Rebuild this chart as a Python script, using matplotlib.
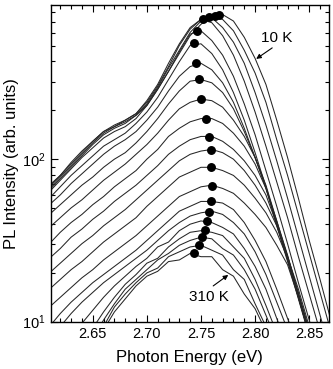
import matplotlib
matplotlib.use("Agg")
import matplotlib.pyplot as plt
import matplotlib.ticker as ticker
import numpy as np

plt.rcParams["font.family"] = ["Liberation Sans", "DejaVu Sans"]
plt.rcParams["mathtext.default"] = "regular"

# photon energy grid shared by all spectra (eV)
energy = [2.61, 2.62, 2.63, 2.64, 2.65, 2.66, 2.67, 2.68, 2.69, 2.70, 2.71, 2.72, 2.73, 2.74,
          2.75, 2.76, 2.77, 2.78, 2.79, 2.80, 2.81, 2.82, 2.83, 2.84, 2.85, 2.86, 2.87]

temperatures = [10, 25, 40, 55, 70, 85, 100, 115, 130, 145, 160, 175, 190, 205, 220, 235, 250,
                265, 280, 295, 310]

# log10 of PL intensity (arb. units), one spectrum per temperature
log_pl_010K = [1.81, 1.88, 1.95, 2.02, 2.09, 2.15, 2.19, 2.22, 2.27, 2.33, 2.43, 2.54, 2.65, 2.76,
               2.83, 2.88, 2.89, 2.85, 2.75, 2.62, 2.46, 2.24, 2.01, 1.76, 1.50, 1.26, 1.01]
log_pl_025K = [1.82, 1.89, 1.96, 2.03, 2.10, 2.16, 2.20, 2.23, 2.27, 2.34, 2.44, 2.56, 2.67, 2.78,
               2.85, 2.88, 2.86, 2.79, 2.67, 2.53, 2.35, 2.12, 1.90, 1.66, 1.42, 1.18, 0.94]
log_pl_040K = [1.84, 1.90, 1.98, 2.05, 2.11, 2.17, 2.21, 2.24, 2.28, 2.35, 2.45, 2.57, 2.70, 2.80,
               2.86, 2.87, 2.81, 2.72, 2.59, 2.41, 2.21, 1.99, 1.76, 1.52, 1.28, 1.04, 0.80]
log_pl_055K = [1.83, 1.90, 1.97, 2.04, 2.11, 2.17, 2.20, 2.24, 2.28, 2.36, 2.46, 2.59, 2.71, 2.81,
               2.86, 2.84, 2.76, 2.64, 2.48, 2.29, 2.08, 1.86, 1.64, 1.40, 1.17, 0.94, 0.70]
log_pl_070K = [1.80, 1.87, 1.94, 2.01, 2.07, 2.13, 2.17, 2.20, 2.25, 2.33, 2.43, 2.54, 2.66, 2.77,
               2.79, 2.73, 2.64, 2.51, 2.34, 2.15, 1.93, 1.71, 1.48, 1.24, 1.01, 0.78, 0.55]
log_pl_085K = [1.76, 1.83, 1.90, 1.96, 2.02, 2.08, 2.12, 2.16, 2.22, 2.29, 2.38, 2.49, 2.60, 2.70,
               2.71, 2.65, 2.55, 2.41, 2.24, 2.04, 1.83, 1.60, 1.38, 1.15, 0.92, 0.69, 0.46]
log_pl_100K = [1.72, 1.78, 1.85, 1.91, 1.97, 2.03, 2.08, 2.12, 2.17, 2.24, 2.32, 2.42, 2.51, 2.57,
               2.59, 2.55, 2.47, 2.35, 2.19, 2.01, 1.82, 1.59, 1.37, 1.14, 0.91, 0.68, 0.45]
log_pl_115K = [1.66, 1.72, 1.78, 1.84, 1.89, 1.95, 2.00, 2.04, 2.10, 2.17, 2.25, 2.34, 2.42, 2.48,
               2.49, 2.47, 2.41, 2.31, 2.17, 2.01, 1.83, 1.61, 1.39, 1.15, 0.92, 0.68, 0.45]
log_pl_130K = [1.58, 1.64, 1.70, 1.75, 1.81, 1.87, 1.92, 1.97, 2.03, 2.09, 2.16, 2.24, 2.31, 2.35,
               2.37, 2.36, 2.32, 2.24, 2.14, 2.01, 1.84, 1.62, 1.40, 1.16, 0.93, 0.69, 0.46]
log_pl_145K = [1.48, 1.55, 1.61, 1.66, 1.72, 1.77, 1.83, 1.88, 1.93, 2.00, 2.06, 2.14, 2.19, 2.23,
               2.25, 2.25, 2.22, 2.16, 2.08, 1.97, 1.82, 1.62, 1.41, 1.17, 0.94, 0.70, 0.47]
log_pl_160K = [1.39, 1.45, 1.52, 1.57, 1.63, 1.68, 1.74, 1.79, 1.84, 1.90, 1.96, 2.03, 2.08, 2.12,
               2.14, 2.14, 2.11, 2.06, 1.99, 1.90, 1.78, 1.60, 1.40, 1.18, 0.95, 0.72, 0.49]
log_pl_175K = [1.30, 1.36, 1.42, 1.48, 1.53, 1.59, 1.64, 1.69, 1.75, 1.81, 1.87, 1.93, 1.99, 2.03,
               2.05, 2.06, 2.04, 2.00, 1.93, 1.84, 1.73, 1.59, 1.40, 1.20, 0.97, 0.75, 0.52]
log_pl_190K = [1.20, 1.26, 1.32, 1.37, 1.43, 1.49, 1.54, 1.59, 1.64, 1.71, 1.77, 1.83, 1.89, 1.92,
               1.95, 1.95, 1.93, 1.90, 1.84, 1.76, 1.67, 1.55, 1.39, 1.16, 0.93, 0.69, 0.46]
log_pl_205K = [1.09, 1.15, 1.21, 1.27, 1.32, 1.38, 1.43, 1.48, 1.53, 1.59, 1.65, 1.71, 1.77, 1.80,
               1.83, 1.84, 1.82, 1.79, 1.73, 1.66, 1.58, 1.47, 1.35, 1.15, 0.92, 0.68, 0.45]
log_pl_220K = [0.97, 1.05, 1.12, 1.18, 1.24, 1.29, 1.34, 1.39, 1.44, 1.50, 1.56, 1.62, 1.68, 1.71,
               1.74, 1.74, 1.73, 1.69, 1.61, 1.50, 1.37, 1.20, 1.02, 0.85, 0.69, 0.52, 0.33]
log_pl_235K = [0.89, 0.97, 1.05, 1.12, 1.18, 1.24, 1.29, 1.34, 1.39, 1.44, 1.50, 1.56, 1.61, 1.65,
               1.67, 1.68, 1.66, 1.61, 1.54, 1.43, 1.29, 1.12, 0.95, 0.78, 0.61, 0.43, 0.26]
log_pl_250K = [0.73, 0.83, 0.91, 0.99, 1.07, 1.15, 1.22, 1.28, 1.34, 1.39, 1.46, 1.49, 1.56, 1.60,
               1.62, 1.61, 1.58, 1.54, 1.45, 1.34, 1.20, 1.02, 0.85, 0.68, 0.51, 0.33, 0.16]
log_pl_265K = [0.61, 0.70, 0.80, 0.88, 0.96, 1.06, 1.15, 1.23, 1.29, 1.36, 1.39, 1.46, 1.51, 1.55,
               1.56, 1.55, 1.53, 1.46, 1.39, 1.26, 1.10, 0.93, 0.76, 0.59, 0.41, 0.24, 0.07]
log_pl_280K = [0.52, 0.61, 0.70, 0.79, 0.90, 1.01, 1.11, 1.20, 1.26, 1.32, 1.38, 1.42, 1.47, 1.50,
               1.52, 1.51, 1.45, 1.41, 1.32, 1.20, 1.04, 0.88, 0.70, 0.53, 0.36, 0.19, 0.01]
log_pl_295K = [0.46, 0.55, 0.64, 0.73, 0.86, 0.97, 1.09, 1.17, 1.24, 1.30, 1.33, 1.40, 1.43, 1.46,
               1.47, 1.44, 1.41, 1.32, 1.26, 1.11, 0.97, 0.83, 0.65, 0.48, 0.31, 0.14, -0.04]
log_pl_310K = [0.40, 0.49, 0.58, 0.70, 0.83, 0.95, 1.06, 1.14, 1.22, 1.28, 1.31, 1.37, 1.38, 1.42,
               1.40, 1.40, 1.32, 1.28, 1.17, 1.08, 0.94, 0.80, 0.64, 0.49, 0.33, 0.18, 0.03]

spectra = [log_pl_010K, log_pl_025K, log_pl_040K, log_pl_055K, log_pl_070K, log_pl_085K,
           log_pl_100K, log_pl_115K, log_pl_130K, log_pl_145K, log_pl_160K, log_pl_175K,
           log_pl_190K, log_pl_205K, log_pl_220K, log_pl_235K, log_pl_250K, log_pl_265K,
           log_pl_280K, log_pl_295K, log_pl_310K]

# peak positions marked with dots
peak_energy = [2.767, 2.763, 2.757, 2.752, 2.746, 2.744, 2.745, 2.748, 2.750, 2.755, 2.757,
               2.759, 2.759, 2.760, 2.759, 2.757, 2.756, 2.754, 2.751, 2.748, 2.744]
peak_pl = [773, 762, 750, 729, 615, 519, 391, 312, 235, 177, 137, 114, 89.5, 68.4, 55.3, 47.3,
           41.7, 36.7, 33.2, 29.6, 26.5]

# label / arrow anchors (energy, intensity)
label_10K_xy, arrow_10K_tail, arrow_10K_tip = (2.820, 557), (2.8158, 484), (2.801, 414)
label_310K_xy, arrow_310K_tail, arrow_310K_tip = (2.757, 14.2), (2.7613, 16.6), (2.7752, 19.4)

fig = plt.figure(figsize=(3.33, 3.69), dpi=100)
ax = fig.add_axes([0.1517, 0.1282, 0.8354, 0.8596])

line_color = "#262626"
for spec in spectra:
    ax.plot(energy, 10 ** np.array(spec), color=line_color, lw=0.75)

ax.plot(peak_energy, peak_pl, "o", color="black", ms=5.4, zorder=5)

ax.set_yscale("log")
ax.set_xlim(2.611, 2.868)
ax.set_ylim(10, 895)

ax.xaxis.set_major_locator(ticker.FixedLocator([2.65, 2.70, 2.75, 2.80, 2.85]))
ax.xaxis.set_minor_locator(ticker.MultipleLocator(0.01))
ax.xaxis.set_major_formatter(ticker.FormatStrFormatter("%.2f"))
ax.tick_params(which="both", direction="in", top=True, right=True, labelsize=10.5, width=0.8)
ax.tick_params(which="major", length=5)
ax.tick_params(which="minor", length=3)
for sp in ax.spines.values():
    sp.set_linewidth(1.0)

ax.set_xlabel("Photon Energy (eV)", fontsize=12, labelpad=7)
ax.set_ylabel("PL Intensity (arb. units)", fontsize=12, labelpad=2)

arrow = dict(arrowstyle="-|>", lw=0.8, color="black", mutation_scale=7, shrinkA=0, shrinkB=0)
ax.text(*label_10K_xy, "10 K", fontsize=11, ha="center", va="center")
ax.annotate("", xy=arrow_10K_tip, xytext=arrow_10K_tail, arrowprops=arrow)
ax.text(*label_310K_xy, "310 K", fontsize=11, ha="center", va="center")
ax.annotate("", xy=arrow_310K_tip, xytext=arrow_310K_tail, arrowprops=arrow)

fig.savefig("out.png", dpi=100)
